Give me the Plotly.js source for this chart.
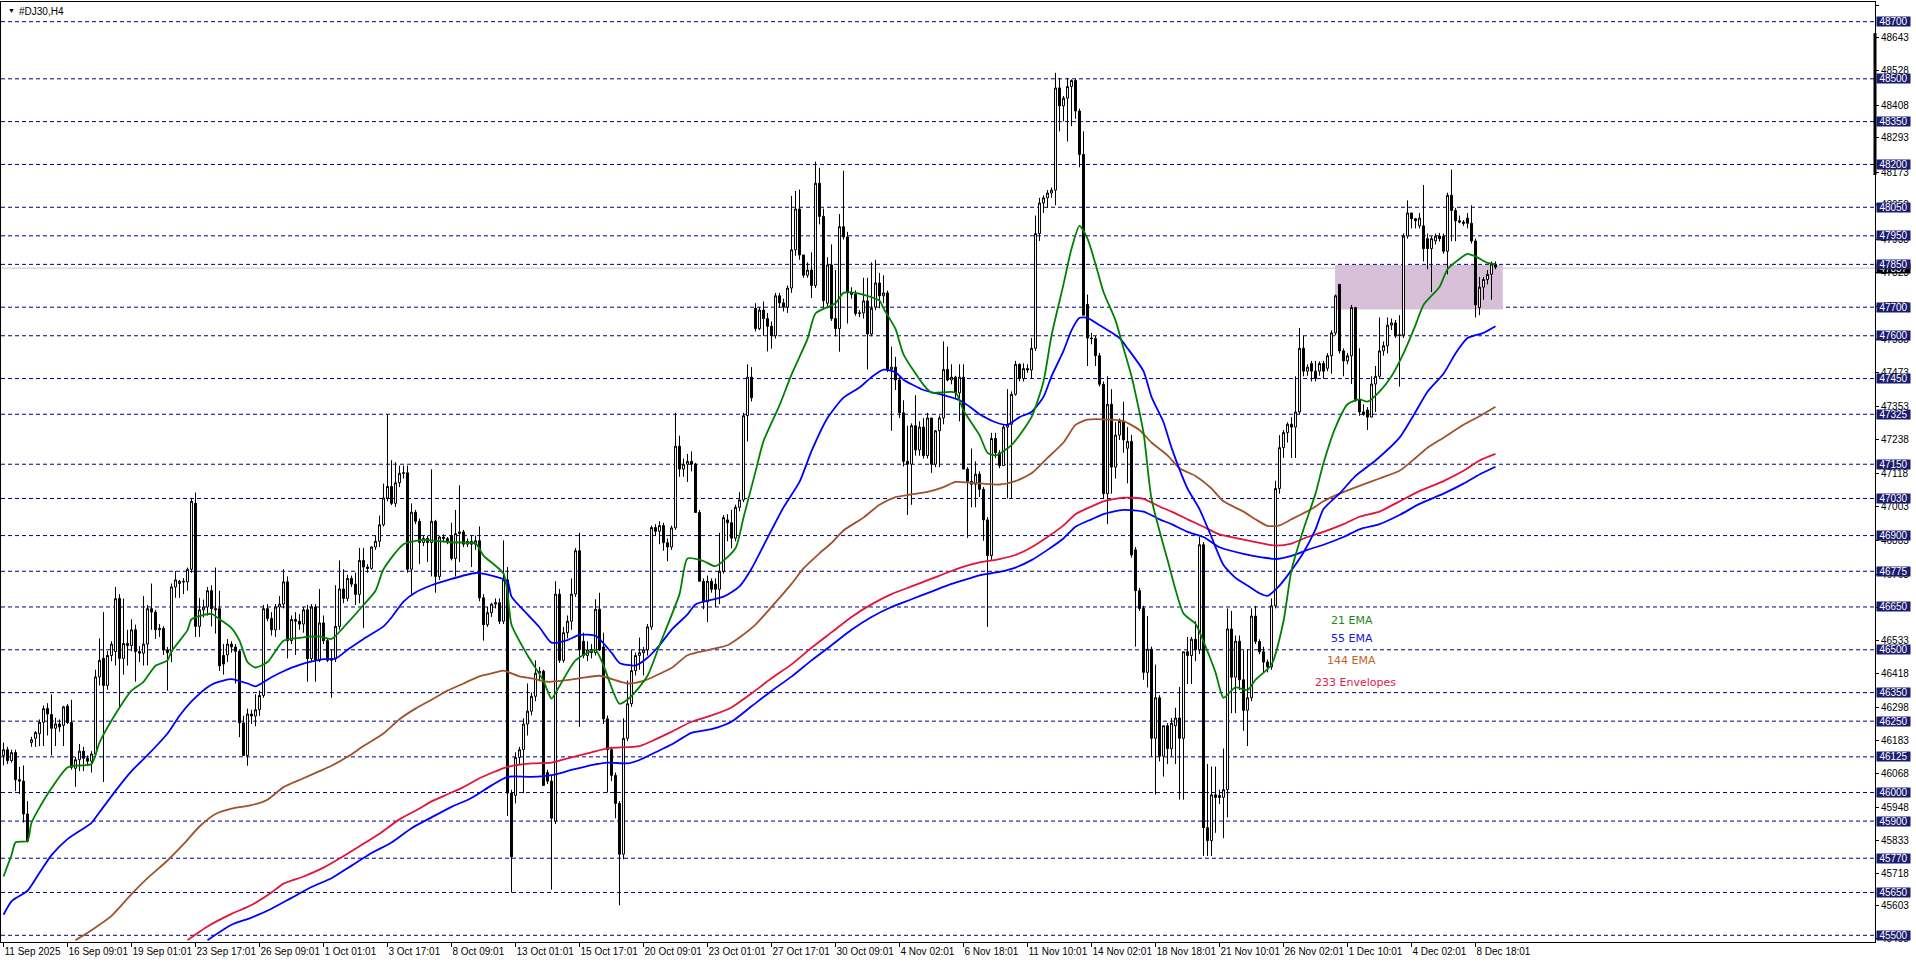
<!DOCTYPE html>
<html>
<head>
<meta charset="utf-8">
<script src="https://cdn.plot.ly/plotly-3.0.1.min.js"></script>
<style>
html,body{margin:0;padding:0;background:#fff;overflow:hidden;}
#chart{width:1916px;height:963px;}
</style>
</head>
<body>
<div id="chart"></div>
<script>
// ---- Candle data (H4 bars, index 0 = 11 Sep 2025) ----
const openP = [
46130,46150,46112,46140,46045,46040,45925,46175,46190,46206,
46246,46294,46273,46225,46240,46235,46303,46245,46085,46115,
46145,46120,46110,46135,46405,46470,46375,46480,46494,46680,
46470,46522,46515,46570,46494,46488,46520,46644,46632,46570,
46575,46500,46495,46720,46732,46740,46738,46782,47013,46582,
46640,46650,46707,46644,46644,46480,46482,46520,46510,46495,
46244,46130,46275,46268,46290,46340,46644,46610,46570,46650,
46660,46738,46532,46606,46600,46590,46640,46469,46650,46463,
46594,46532,46463,46470,46582,46713,46680,46750,46730,46694,
46813,46790,46785,46860,46880,46938,47032,47072,47013,47085,
47118,47120,46782,46982,46950,46876,46890,46876,46950,46757,
46895,46890,46900,46820,46907,46913,46870,46880,46870,46882,
46682,46588,46630,46660,46665,46600,46745,45998,45990,46123,
46150,46240,46285,46337,46418,46425,46070,46040,45900,46695,
46463,46560,46600,46695,46847,46530,46480,46500,46490,46642,
46510,46258,46150,46060,45962,45784,46190,46311,46427,46480,
46490,46500,46580,46928,46915,46935,46875,46860,46927,47213,
47133,47150,47160,47150,46981,46740,46668,46740,46730,46712,
46775,46955,46945,46891,46999,47025,47320,47455,47696,47625,
47690,47660,47633,47600,47740,47715,47700,47767,47901,48044,
47883,47812,47830,47776,48134,48018,47714,47848,47660,47625,
47982,47946,47750,47745,47678,47680,47722,47606,47700,47785,
47740,47750,47482,47490,47445,47330,47160,47150,47285,47200,
47280,47180,47312,47150,47267,47312,47482,47445,47455,47400,
47455,47133,47090,47080,47115,47062,46955,46830,47240,47190,
47145,47280,47290,47395,47500,47450,47485,47480,47556,47958,
48065,48083,48100,48110,48468,48405,48432,48473,48494,48387,
48235,47710,47592,47590,47530,47430,47047,47360,47140,47252,
47300,47206,47230,46850,46707,46645,46421,46502,46190,46332,
46127,46234,46154,46234,46261,46190,46493,46480,46537,46500,
46868,45877,45832,45992,45990,45983,46010,46573,46404,46530,
46395,46288,46332,46618,46529,46493,46457,46440,46654,47065,
47208,47261,47290,47280,47333,47556,47476,47503,47476,47476,
47503,47486,47530,47610,47780,47547,47512,47530,47699,47377,
47333,47340,47315,47431,47458,47547,47565,47637,47645,47600,
47603,47949,48030,48010,47985,47985,47940,47905,47932,47949,
47949,47896,48092,48039,48003,47998,48012,47994,47932,47699,
47770,47797,47815,47851];
const highP = [
46175,46160,46150,46150,46090,46095,45970,46195,46215,46256,
46305,46313,46344,46262,46256,46304,46310,46325,46125,46170,
46160,46130,46145,46430,46540,46632,46495,46530,46720,46695,
46679,46570,46607,46588,46513,46688,46657,46732,46640,46590,
46582,46510,46732,46776,46745,46751,46788,47032,47051,46682,
46676,46720,46726,46788,46707,46520,46538,46530,46520,46500,
46269,46294,46290,46344,46357,46657,46660,46632,46660,46688,
46782,46757,46620,46632,46625,46650,46657,46660,46660,46713,
46620,46540,46500,46726,46813,46782,46763,46760,46770,46857,
46857,46800,46863,46900,46970,47082,47324,47164,47157,47145,
47145,47145,47013,46990,46960,46900,46900,47132,46955,46900,
46905,46895,46945,46990,47076,46920,46890,46900,46900,46932,
46695,46650,46665,46680,46680,46883,46790,46010,46141,46160,
46260,46382,46350,46463,46440,46430,46080,46060,46740,46713,
46580,46620,46750,46856,46910,46560,46530,46520,46677,46700,
46560,46270,46160,46070,45970,46260,46392,46499,46490,46543,
46510,46590,46935,46940,46950,46945,46890,46935,47330,47250,
47170,47186,47195,47155,46990,46750,46760,46750,46750,46910,
46972,46975,46990,47008,47052,47330,47500,47490,47714,47700,
47720,47680,47650,47750,47750,47730,47776,48090,48107,48112,
47883,47857,47892,48210,48188,48045,47875,47920,47830,48026,
48178,47964,47770,47759,47690,47803,47803,47857,47866,47820,
47812,47758,47562,47526,47455,47374,47285,47293,47392,47300,
47312,47330,47312,47270,47321,47580,47562,47500,47460,47500,
47500,47140,47205,47160,47125,47070,46965,47260,47260,47199,
47290,47413,47405,47512,47503,47503,47500,47592,48021,48083,
48092,48110,48119,48521,48503,48440,48503,48498,48500,48396,
48316,47744,47610,47600,47540,47440,47458,47413,47297,47310,
47369,47280,47253,46860,46716,46654,46618,46511,46448,46341,
46234,46243,46261,46297,46370,46493,46545,46545,46600,46895,
46877,46100,46091,46091,46010,46154,46645,46636,46550,46550,
46498,46502,46645,46654,46537,46511,46466,46680,47092,47252,
47270,47297,47315,47458,47627,47601,47500,47512,47512,47510,
47512,47539,47619,47744,47780,47556,47540,47708,47699,47556,
47360,47350,47458,47494,47664,47580,47664,47660,47655,47672,
47958,48074,48030,48012,48030,48128,47958,47949,47958,47960,
47958,48101,48182,48048,48021,48005,48030,48057,47940,47806,
47806,47830,47860,47860];
const lowP = [
46095,46100,46105,46005,45995,45895,45825,46160,46160,46163,
46163,46200,46130,46163,46213,46163,46240,46080,46020,46075,
46075,46100,46070,46125,46375,46037,46360,46460,46445,46294,
46413,46445,46495,46388,46457,46445,46445,46570,46538,46545,
46482,46357,46457,46682,46682,46695,46707,46770,46545,46545,
46613,46620,46582,46557,46426,46413,46457,46490,46382,46194,
46130,46094,46240,46232,46269,46332,46600,46550,46545,46570,
46645,46470,46520,46482,46570,46560,46388,46460,46388,46457,
46520,46457,46332,46457,46570,46663,46670,46720,46657,46663,
46576,46770,46780,46850,46860,46932,47020,47007,47000,47070,
47100,46770,46695,46940,46800,46863,46807,46757,46700,46745,
46880,46870,46813,46757,46807,46860,46860,46790,46850,46670,
46532,46580,46615,46645,46590,46590,45918,45650,45962,46100,
45998,46200,46270,46320,46390,46025,46030,45660,45890,46454,
46455,46540,46570,46685,46230,46470,46460,46470,46480,46495,
46240,46000,46040,45910,45605,45766,46180,46300,46410,46430,
46410,46480,46570,46900,46870,46847,46810,46850,46920,47106,
47106,47088,47125,46980,46740,46642,46597,46700,46650,46660,
46767,46880,46856,46880,46985,47017,47230,47370,47615,47620,
47600,47545,47555,47590,47700,47685,47680,47750,47880,47866,
47803,47803,47732,47767,47990,47696,47696,47652,47598,47544,
47937,47643,47730,47670,47665,47660,47482,47598,47690,47696,
47714,47473,47267,47410,47312,47142,46972,47008,47180,47180,
47170,47170,47120,47140,47140,47290,47440,47430,47380,47300,
47133,46892,46999,46999,47035,46882,46580,46815,47172,47136,
47145,47030,47030,47390,47440,47440,47470,47450,47547,47932,
48030,48048,48083,48057,48316,48351,48280,48334,48360,48190,
47672,47494,47570,47494,47422,47029,46940,47047,47100,47235,
47190,47083,46823,46511,46636,46395,46368,46127,45993,46109,
46056,46100,46127,46100,45975,45975,46380,46380,46460,46485,
45778,45778,45778,45859,45960,45840,45913,46278,46278,46359,
46216,46163,46320,46520,46484,46422,46421,46430,46645,47047,
47172,47226,47172,47172,47324,47458,47460,47440,47440,47460,
47449,47476,47467,47601,47538,47458,47500,47431,47369,47320,
47320,47270,47315,47333,47449,47530,47538,47620,47592,47422,
47592,47940,47976,47976,47976,47860,47833,47753,47920,47930,
47887,47815,47931,47931,47994,47985,47976,47923,47664,47672,
47726,47780,47726,47833];
const closeP = [
46150,46112,46140,46045,46040,45925,45830,46185,46210,46246,
46294,46275,46225,46240,46230,46300,46245,46088,46115,46145,
46120,46110,46135,46405,46463,46375,46480,46520,46679,46470,
46522,46515,46570,46494,46488,46520,46644,46632,46570,46575,
46500,46490,46720,46745,46740,46738,46782,47020,46582,46640,
46650,46707,46644,46640,46444,46450,46520,46510,46495,46244,
46130,46275,46268,46290,46340,46644,46610,46570,46650,46660,
46738,46532,46606,46600,46590,46640,46469,46650,46463,46594,
46532,46463,46470,46582,46713,46680,46750,46730,46694,46813,
46790,46785,46860,46880,46938,47032,47072,47013,47085,47118,
47120,46782,46982,46950,46876,46890,46876,46950,46757,46895,
46890,46880,46820,46907,46913,46870,46880,46870,46882,46682,
46588,46630,46660,46665,46600,46745,45998,45775,46123,46150,
46240,46285,46337,46418,46425,46025,46040,45910,46695,46463,
46560,46600,46695,46847,46500,46480,46500,46490,46642,46499,
46258,46150,46060,45962,45784,46190,46311,46427,46480,46490,
46500,46580,46928,46915,46935,46875,46860,46927,47213,47133,
47150,47160,47150,46981,46740,46668,46740,46712,46712,46775,
46963,46945,46891,46999,47025,47320,47455,47383,47625,47690,
47660,47633,47600,47740,47715,47700,47767,47901,48044,47883,
47812,47830,47776,48134,48018,47723,47848,47660,47625,47982,
47946,47750,47745,47678,47680,47722,47606,47696,47785,47740,
47750,47482,47490,47445,47330,47160,47150,47285,47200,47280,
47180,47312,47150,47267,47312,47482,47445,47455,47400,47455,
47133,47090,47080,47115,47062,46955,46830,47240,47190,47145,
47280,47290,47395,47500,47450,47485,47480,47556,47958,48065,
48083,48100,48110,48468,48405,48432,48473,48494,48387,48235,
47672,47592,47590,47530,47430,47047,47360,47140,47252,47300,
47235,47230,46832,46707,46645,46421,46502,46190,46332,46127,
46234,46154,46243,46261,46190,46493,46480,46537,46500,46868,
45877,45832,45992,45983,45983,46010,46573,46404,46530,46395,
46288,46332,46618,46529,46493,46457,46440,46654,47065,47208,
47261,47290,47280,47333,47556,47476,47490,47476,47450,47503,
47476,47530,47610,47740,47547,47512,47530,47699,47377,47333,
47324,47315,47431,47458,47547,47565,47637,47645,47600,47603,
47949,48030,48010,48003,48012,47905,47905,47940,47949,47940,
47896,48092,48039,48003,47998,47994,47994,47932,47708,47770,
47797,47815,47851,47840];

// ---- Indicator lines: [bar index, value] samples ----
const ema21 = [[0,45706],[2,45781],[3,45825],[6,45831],[7,45894],[11,45994],[16,46088],[18,46094],[22,46100],[24,46175],[28,46275],[32,46357],[35,46388],[38,46444],[41,46463],[42,46494],[46,46569],[47,46607],[52,46626],[54,46607],[57,46576],[59,46532],[61,46457],[63,46438],[66,46457],[70,46532],[74,46542],[79,46547],[82,46538],[86,46594],[90,46657],[93,46707],[95,46782],[100,46870],[105,46885],[112,46876],[118,46872],[120,46830],[125,46767],[126,46700],[127,46588],[131,46481],[135,46391],[137,46329],[139,46373],[143,46463],[148,46499],[150,46445],[154,46311],[157,46338],[161,46409],[164,46516],[169,46695],[171,46820],[175,46811],[178,46793],[183,46856],[185,46963],[188,47124],[190,47231],[194,47356],[197,47464],[201,47589],[203,47678],[208,47714],[210,47750],[213,47750],[219,47723],[220,47696],[223,47624],[225,47535],[230,47428],[232,47401],[238,47401],[240,47338],[244,47252],[246,47190],[248,47181],[252,47217],[257,47315],[260,47440],[262,47601],[265,47780],[267,47905],[269,47985],[271,47940],[273,47851],[275,47753],[278,47654],[280,47556],[282,47458],[285,47261],[287,47029],[291,46815],[295,46627],[298,46591],[300,46529],[303,46421],[305,46332],[308,46368],[311,46359],[313,46395],[317,46448],[320,46600],[322,46779],[325,46922],[328,47047],[330,47154],[333,47279],[336,47360],[339,47377],[341,47369],[344,47404],[347,47458],[350,47538],[353,47637],[355,47708],[359,47771],[361,47833],[364,47869],[366,47887],[368,47878],[371,47855],[373,47851]];
const ema55 = [[0,45572],[2,45619],[6,45656],[9,45719],[12,45781],[16,45837],[22,45894],[24,45931],[28,46006],[32,46075],[36,46131],[41,46207],[44,46269],[47,46319],[51,46369],[53,46384],[57,46397],[61,46382],[63,46372],[67,46404],[70,46425],[74,46447],[80,46467],[83,46469],[86,46500],[90,46538],[95,46582],[97,46613],[100,46669],[103,46701],[107,46726],[111,46744],[118,46769],[122,46760],[126,46740],[127,46686],[131,46624],[134,46579],[137,46525],[141,46534],[144,46552],[148,46549],[152,46490],[154,46454],[158,46445],[161,46472],[164,46516],[167,46570],[171,46624],[173,46659],[180,46686],[184,46722],[187,46784],[191,46892],[195,46999],[199,47088],[202,47196],[206,47312],[210,47383],[214,47419],[217,47455],[220,47481],[223,47472],[225,47446],[230,47410],[235,47392],[239,47374],[242,47347],[244,47325],[248,47297],[251,47288],[254,47315],[257,47333],[260,47386],[262,47458],[265,47547],[267,47619],[269,47663],[271,47663],[274,47637],[279,47592],[281,47556],[285,47476],[287,47386],[290,47297],[292,47208],[296,47065],[299,46993],[302,46895],[305,46797],[308,46752],[311,46725],[314,46698],[316,46689],[319,46725],[322,46779],[325,46841],[328,46922],[330,46993],[334,47047],[338,47109],[343,47163],[349,47243],[353,47333],[356,47404],[360,47467],[363,47538],[366,47592],[370,47610],[373,47633]];
const ema144 = [[18,45483],[22,45518],[27,45568],[32,45644],[36,45700],[41,45762],[45,45819],[49,45881],[53,45925],[57,45944],[62,45956],[66,45975],[70,46019],[74,46044],[79,46075],[82,46094],[86,46125],[90,46163],[95,46207],[99,46257],[103,46294],[107,46325],[111,46357],[115,46382],[119,46407],[122,46417],[125,46427],[129,46407],[132,46400],[136,46388],[144,46400],[149,46409],[156,46382],[160,46391],[163,46409],[167,46436],[171,46481],[176,46499],[181,46516],[184,46543],[188,46588],[192,46650],[197,46731],[200,46785],[204,46838],[207,46874],[210,46918],[215,46963],[219,47008],[223,47035],[227,47044],[231,47053],[235,47070],[238,47088],[242,47085],[244,47083],[249,47079],[253,47091],[257,47118],[261,47172],[265,47226],[268,47288],[271,47306],[277,47306],[280,47301],[284,47270],[287,47226],[291,47181],[294,47136],[298,47109],[302,47065],[305,47020],[310,46984],[313,46957],[316,46934],[319,46936],[322,46957],[327,46993],[330,47020],[334,47047],[339,47074],[344,47100],[349,47127],[353,47172],[356,47208],[360,47243],[365,47288],[369,47318],[373,47351]];
const envUpper = [[46,45483],[51,45531],[57,45575],[62,45606],[67,45650],[70,45681],[75,45706],[80,45737],[84,45769],[89,45812],[94,45856],[99,45906],[104,45944],[107,45969],[111,45994],[115,46019],[119,46050],[126,46090],[132,46102],[137,46105],[142,46123],[147,46141],[151,46155],[159,46163],[163,46186],[167,46213],[172,46248],[177,46270],[182,46298],[187,46347],[192,46400],[197,46449],[202,46507],[207,46561],[212,46615],[217,46659],[222,46695],[227,46722],[232,46749],[237,46776],[242,46799],[244,46806],[249,46818],[253,46832],[257,46859],[261,46895],[265,46936],[268,46975],[272,47002],[275,47020],[280,47033],[285,47029],[289,47002],[292,46984],[296,46957],[300,46931],[304,46904],[310,46886],[315,46872],[318,46865],[322,46872],[326,46895],[330,46913],[335,46940],[339,46966],[344,46984],[349,47020],[354,47056],[360,47091],[365,47127],[369,47163],[373,47186]];
const envLower = [[51,45483],[57,45537],[62,45562],[67,45593],[72,45631],[77,45669],[82,45700],[87,45744],[92,45788],[97,45825],[102,45875],[107,45913],[112,45950],[117,45981],[122,46025],[126,46055],[132,46055],[137,46061],[142,46079],[147,46096],[151,46105],[156,46102],[159,46114],[163,46141],[167,46168],[172,46209],[177,46222],[182,46248],[187,46302],[192,46356],[197,46406],[202,46463],[207,46516],[212,46570],[217,46615],[222,46650],[227,46677],[232,46704],[237,46731],[242,46752],[244,46761],[249,46773],[253,46788],[257,46814],[261,46850],[265,46890],[268,46931],[272,46957],[275,46975],[280,46990],[285,46984],[289,46957],[292,46940],[296,46913],[300,46895],[304,46859],[310,46836],[315,46823],[318,46818],[322,46829],[326,46850],[330,46868],[335,46895],[339,46922],[344,46940],[349,46972],[354,47011],[360,47047],[365,47082],[369,47114],[373,47141]];

// ---- Axis text ----
const xTickLabels = ["11 Sep 2025","16 Sep 09:01","19 Sep 01:01","23 Sep 17:01","26 Sep 09:01","1 Oct 01:01","3 Oct 17:01","8 Oct 09:01","13 Oct 01:01","15 Oct 17:01","20 Oct 09:01","23 Oct 01:01","27 Oct 17:01","30 Oct 09:01","4 Nov 02:01","6 Nov 18:01","11 Nov 10:01","14 Nov 02:01","18 Nov 18:01","21 Nov 10:01","26 Nov 02:01","1 Dec 10:01","4 Dec 02:01","8 Dec 18:01"];
const xTickBars = [0,16,32,48,64,80,96,112,128,144,160,176,192,208,224,240,256,272,288,304,320,336,352,368];
const yTickValues = [48758,48643,48528,48408,48293,48173,48058,47938,47823,47703,47588,47473,47353,47238,47118,47003,46883,46763,46648,46533,46418,46298,46183,46068,45948,45833,45718,45603,45488];
const levelLines = [48700,48500,48350,48200,48050,47950,47850,47700,47600,47450,47325,47150,47030,46900,46775,46650,46500,46350,46250,46125,46000,45900,45770,45650,45500];
const bidPrice = 47837;
const zoneBars = [332.9, 374.8];
const zonePrices = [47692, 47848];
const axisMarker = [48163, 48660];
const legendItems = [
  {text:"21 EMA", bar:337, price:46602, color:"#1a8a1a"},
  {text:"55 EMA", bar:337, price:46541, color:"#1515e0"},
  {text:"144 EMA", bar:337, price:46461, color:"#c0642d"},
  {text:"233 Envelopes", bar:338, price:46387, color:"#e0204a"}
];

const FONT = "Liberation Sans, Arial, sans-serif";
const idx = closeP.map((_, i) => i);

const traces = [
  {
    type: "candlestick", x: idx, open: openP, high: highP, low: lowP, close: closeP,
    increasing: {line: {color: "#000", width: 1}, fillcolor: "#fff"},
    decreasing: {line: {color: "#000", width: 1}, fillcolor: "#000"},
    whiskerwidth: 0, hoverinfo: "skip"
  }
];
function lineTrace(pts, color) {
  return {type: "scatter", mode: "lines", x: pts.map(p => p[0]), y: pts.map(p => p[1]),
    line: {color: color, width: 1.8, shape: "spline", smoothing: 0.6}, hoverinfo: "skip"};
}
traces.push(lineTrace(ema144, "#a0522d"));
traces.push(lineTrace(envUpper, "#e0143c"));
traces.push(lineTrace(envLower, "#0000ff"));
traces.push(lineTrace(ema55, "#0000ff"));
traces.push(lineTrace(ema21, "#008000"));

const shapes = [];
shapes.push({type: "rect", xref: "x", yref: "y", x0: zoneBars[0], x1: zoneBars[1], y0: zonePrices[0], y1: zonePrices[1],
  fillcolor: "#d8bfd8", line: {width: 0}, layer: "below"});
levelLines.forEach(v => shapes.push({type: "line", xref: "paper", yref: "y", x0: 0, x1: 1, y0: v, y1: v,
  line: {color: "#000080", width: 1, dash: "4px,3px"}, layer: "below"}));
shapes.push({type: "line", xref: "paper", yref: "y", x0: 0, x1: 1, y0: bidPrice, y1: bidPrice,
  line: {color: "#c0c0c0", width: 1}, layer: "below"});
shapes.push({type: "line", xref: "paper", yref: "y", x0: 1, x1: 1, y0: axisMarker[0], y1: axisMarker[1],
  line: {color: "#000", width: 3}});

const annotations = [];
annotations.push({xref: "paper", yref: "y", x: 1, y: bidPrice, xanchor: "left", xshift: 1, showarrow: false,
  text: String(bidPrice), bgcolor: "#000", font: {color: "#fff", size: 10, family: FONT}, width: 33, height: 9, borderpad: 0});
levelLines.forEach(v => annotations.push({xref: "paper", yref: "y", x: 1, y: v, xanchor: "left", xshift: 1, showarrow: false,
  text: String(v), bgcolor: "#1b1b70", font: {color: "#fff", size: 10, family: FONT}, width: 33, height: 9, borderpad: 0}));
legendItems.forEach(it => annotations.push({xref: "x", yref: "y", x: it.bar, y: it.price, showarrow: false,
  text: it.text, font: {color: it.color, size: 11, family: "DejaVu Sans, sans-serif"}, xanchor: "center", yanchor: "middle"}));
annotations.push({xref: "paper", yref: "paper", x: 0, y: 1, xanchor: "left", yanchor: "top", xshift: 5, yshift: -3,
  showarrow: false, text: "▼", font: {size: 7, color: "#000", family: FONT}});
annotations.push({xref: "paper", yref: "paper", x: 0, y: 1, xanchor: "left", yanchor: "top", xshift: 16, yshift: -2,
  showarrow: false, text: "#DJ30,H4", font: {size: 10, color: "#000", family: FONT}});

const layout = {
  width: 1916, height: 963,
  margin: {l: 1, r: 41, t: 2, b: 21, pad: 0},
  paper_bgcolor: "#fff", plot_bgcolor: "#fff",
  showlegend: false, hovermode: false,
  xaxis: {
    range: [-0.625, 467.875], showgrid: false, zeroline: false,
    showline: true, mirror: true, linecolor: "#000", linewidth: 1,
    ticks: "outside", ticklen: 4, tickcolor: "#000", tickwidth: 1,
    tickmode: "array", tickvals: xTickBars, ticktext: xTickLabels,
    ticklabelposition: "outside right", tickangle: 0, automargin: false,
    tickfont: {family: FONT, size: 10, color: "#000"},
    rangeslider: {visible: false}, fixedrange: true
  },
  yaxis: {
    range: [45476.5, 48769], side: "right", showgrid: false, zeroline: false,
    showline: true, mirror: true, linecolor: "#000", linewidth: 1,
    ticks: "outside", ticklen: 3, tickcolor: "#000", automargin: false,
    tickmode: "array", tickvals: yTickValues, ticktext: yTickValues.map(String),
    tickfont: {family: FONT, size: 10, color: "#000"}, fixedrange: true
  },
  shapes: shapes,
  annotations: annotations
};

Plotly.newPlot("chart", traces, layout, {staticPlot: true, displayModeBar: false});
</script>
</body>
</html>
